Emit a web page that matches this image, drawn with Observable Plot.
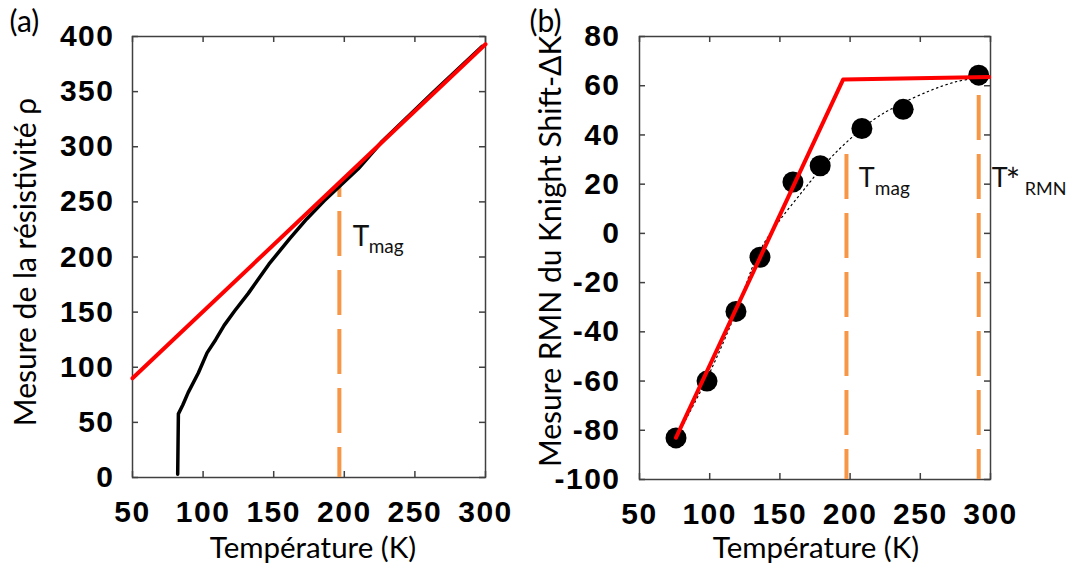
<!DOCTYPE html>
<html><head><meta charset="utf-8">
<script src="https://cdn.jsdelivr.net/npm/d3@7"></script>
<script src="https://cdn.jsdelivr.net/npm/@observablehq/plot@0.6"></script>
<style>
body{margin:0;background:#fff}
#wrap{display:flex;width:1070px;height:566px;overflow:hidden}
g[aria-label$="tick label"]{letter-spacing:1.5px}
</style>
</head><body><div id="wrap"></div>
<script>
// ---------- data: panel (a) resistivity ----------
const resTemp = [82, 82.5, 85.7, 89.4, 96.7, 102.8, 108.9, 114.9, 122.3, 132, 146.6, 161.2, 173.4, 185.6, 196.5, 209.9, 226.9, 263.5, 297.5];
const resRho  = [3, 57.7, 66, 77, 95, 113, 125, 138, 151, 167, 193.5, 216.4, 234.5, 250.8, 264, 280, 305, 350, 391];
const fitATemp = [50, 300];
const fitARho  = [90, 393];
const tmagATemp = [196.5];
const tmagARho  = [267];
const xTicks  = [50, 100, 150, 200, 250, 300];
const yTicksA = [0, 50, 100, 150, 200, 250, 300, 350, 400];

// ---------- data: panel (b) NMR Knight shift ----------
const nmrTemp  = [76, 98.1, 118.7, 135.8, 159.3, 178.7, 208.4, 237.8, 291.6];
const nmrShift = [-83.1, -60, -31.7, -9.7, 20.9, 27.5, 42.6, 50.4, 64.3];
const fitBTemp  = [76, 195, 299];
const fitBShift = [-83, 62.5, 63.5];
const guideTemp  = [76, 98, 118, 134, 146, 166, 183, 197, 217, 232, 257, 276, 291];
const guideShift = [-83, -59, -33, -9, 2.3, 17, 28.7, 36.8, 46.3, 51.4, 58, 61.7, 63.2];
const markerTemp = [197.4, 291.6];
const markerTop  = [37.5, 56];
const yTicksB = [-100, -80, -60, -40, -20, 0, 20, 40, 60, 80];

const W = 535, H = 566;
const ORANGE = "#f79646", FRAME = "#404040";
const tickFont = {fontSize: 30, fontWeight: "bold", fontFamily: "Liberation Sans, Arial, sans-serif", fill: "#000", tickFormat: d => String(d)};
const txtFont = "Lato, sans-serif";

function innerTicks(xt, yt, fw, fh) {
  const st = {stroke: FRAME, strokeWidth: 1.5};
  return [
    Plot.tickY(yt, {y: d => d, insetRight: fw - 6, ...st}),
    Plot.tickY(yt, {y: d => d, insetLeft: fw - 6, ...st}),
    Plot.tickX(xt, {x: d => d, insetTop: fh - 6, ...st}),
    Plot.tickX(xt, {x: d => d, insetBottom: fh - 6, ...st}),
  ];
}

// ---------- panel (a) ----------
{
  const mL = 132, mR = 50, mT = 36, mB = 89;
  const fw = W - mL - mR, fh = H - mT - mB;
  const res = resTemp.map((t, i) => ({t, v: resRho[i]}));
  const fit = fitATemp.map((t, i) => ({t, v: fitARho[i]}));
  const chart = Plot.plot({
    width: W, height: H, marginLeft: mL, marginRight: mR, marginTop: mT, marginBottom: mB,
    style: {fontFamily: txtFont, background: "white", overflow: "visible"},
    x: {domain: [50, 300]},
    y: {domain: [0, 400]},
    marks: [
      ...innerTicks(xTicks, yTicksA, fw, fh),
      Plot.frame({stroke: FRAME, strokeWidth: 1.5}),
      Plot.axisX(xTicks, {tickSize: 0, tickPadding: 23, label: null, ...tickFont}),
      Plot.axisY(yTicksA, {tickSize: 0, tickPadding: 18, label: null, ...tickFont}),
      Plot.ruleX(tmagATemp, {x: d => d, y1: 0, y2: (d, i) => tmagARho[i], stroke: ORANGE, strokeWidth: 4, strokeDasharray: "45 14", strokeDashoffset: 15}),
      Plot.line(res, {x: "t", y: "v", stroke: "#000", strokeWidth: 3.5}),
      Plot.line(fit, {x: "t", y: "v", stroke: "#ff0000", strokeWidth: 4}),
      Plot.text(["T"], {x: 205.9, y: 209.9, textAnchor: "start", lineAnchor: "bottom", fontSize: 28, fill: "#111", fontFamily: txtFont}),
      Plot.text(["mag"], {x: 205.9, y: 209.9, dx: 16, dy: 7, textAnchor: "start", lineAnchor: "bottom", fontSize: 19, fill: "#111", fontFamily: txtFont}),
      Plot.text(["Température (K)"], {frameAnchor: "bottom", dx: 4, dy: 80, textAnchor: "middle", lineAnchor: "bottom", fontSize: 29.5, fill: "#000", fontFamily: txtFont}),
      Plot.text(["Mesure de la résistivité ρ"], {frameAnchor: "left", rotate: -90, dx: -118, dy: 5, textAnchor: "middle", lineAnchor: "top", fontSize: 30, fill: "#000", fontFamily: txtFont}),
      Plot.text(["(a)"], {frameAnchor: "top-left", dx: 9 - mL, dy: 31 - mT, textAnchor: "start", lineAnchor: "bottom", fontSize: 30, fill: "#000", fontFamily: txtFont}),
    ]
  });
  document.getElementById("wrap").append(chart);
}

// ---------- panel (b) ----------
{
  const mL = 104, mR = 80, mT = 36, mB = 87;
  const fw = W - mL - mR, fh = H - mT - mB;
  const pts = nmrTemp.map((t, i) => ({t, v: nmrShift[i]}));
  const fit = fitBTemp.map((t, i) => ({t, v: fitBShift[i]}));
  const guide = guideTemp.map((t, i) => ({t, v: guideShift[i]}));
  const chart = Plot.plot({
    width: W, height: H, marginLeft: mL, marginRight: mR, marginTop: mT, marginBottom: mB,
    style: {fontFamily: txtFont, background: "white", overflow: "visible"},
    x: {domain: [50, 300]},
    y: {domain: [-100, 80]},
    marks: [
      ...innerTicks(xTicks, yTicksB, fw, fh),
      Plot.frame({stroke: FRAME, strokeWidth: 1.5}),
      Plot.axisX(xTicks, {tickSize: 0, tickPadding: 23, label: null, ...tickFont}),
      Plot.axisY(yTicksB, {tickSize: 0, tickPadding: 19, label: null, ...tickFont}),
      Plot.ruleX(markerTemp, {x: d => d, y1: -100, y2: (d, i) => markerTop[i], stroke: ORANGE, strokeWidth: 4, strokeDasharray: "45 14", strokeDashoffset: 15}),
      Plot.line(guide, {x: "t", y: "v", curve: "catmull-rom", stroke: "#000", strokeWidth: 1.2, strokeDasharray: "1.5 3.5"}),
      Plot.dot(pts, {x: "t", y: "v", r: 10.5, fill: "#000"}),
      Plot.line(fit, {x: "t", y: "v", stroke: "#ff0000", strokeWidth: 4}),
      Plot.text(["T"], {x: 206.2, y: 18.9, textAnchor: "start", lineAnchor: "bottom", fontSize: 27, fill: "#111", fontFamily: txtFont}),
      Plot.text(["mag"], {x: 206.2, y: 18.9, dx: 16, dy: 8, textAnchor: "start", lineAnchor: "bottom", fontSize: 19, fill: "#111", fontFamily: txtFont}),
      Plot.text(["T"], {x: 300.9, y: 18.9, textAnchor: "start", lineAnchor: "bottom", fontSize: 27, fill: "#111", fontFamily: txtFont}),
      Plot.text(["*"], {x: 300.9, y: 18.9, dx: 14, dy: 6, textAnchor: "start", lineAnchor: "bottom", fontSize: 34, fill: "#111", fontFamily: txtFont}),
      Plot.text(["RMN"], {x: 300.9, y: 18.9, dx: 33, dy: 8, textAnchor: "start", lineAnchor: "bottom", fontSize: 18, fill: "#111", fontFamily: txtFont}),
      Plot.text(["Température (K)"], {frameAnchor: "bottom", dx: 1, dy: 78, textAnchor: "middle", lineAnchor: "bottom", fontSize: 29.5, fill: "#000", fontFamily: txtFont}),
      Plot.text(["Mesure RMN du Knight Shift-ΔK"], {frameAnchor: "left", rotate: -90, dx: 4.5 - mL, dy: -6.6, textAnchor: "middle", lineAnchor: "top", fontSize: 30, fill: "#000", fontFamily: txtFont}),
      Plot.text(["(b)"], {frameAnchor: "top-left", dx: -6 - mL, dy: 31 - mT, textAnchor: "start", lineAnchor: "bottom", fontSize: 30, fill: "#000", fontFamily: txtFont}),
    ]
  });
  document.getElementById("wrap").append(chart);
}
</script>
</body></html>
